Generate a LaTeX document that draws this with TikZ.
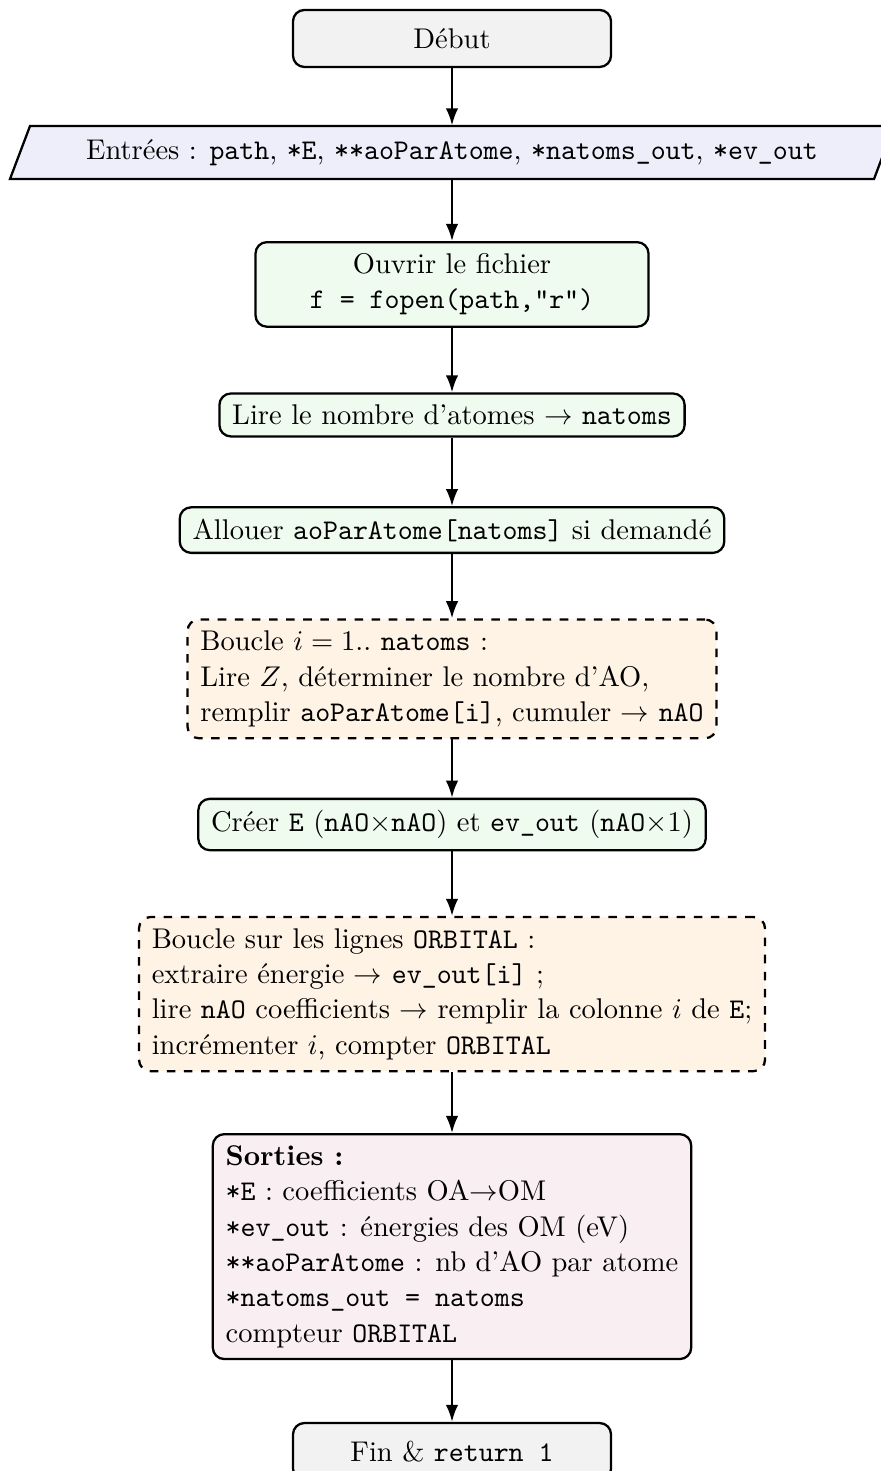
\documentclass[tikz,border=0pt]{standalone}
\usetikzlibrary{shapes.geometric,arrows.meta}
\definecolor{cgray}{HTML}{F2F2F2}
\definecolor{cblue}{HTML}{EEEEFB}
\definecolor{cgreen}{HTML}{F0FBF0}
\definecolor{corange}{HTML}{FFF3E6}
\definecolor{cpink}{HTML}{F9EEF2}
\begin{document}
\begin{tikzpicture}[x=1pt,y=1pt,
  base/.style={draw, line width=0.8pt, rounded corners=4pt, inner xsep=4.5pt, inner ysep=4pt,
    font=\fontsize{10}{12.4}\selectfont},
  term/.style={base, fill=cgray, minimum width=111.6pt, minimum height=20pt},
  io/.style={inner sep=0pt, minimum height=18.6pt, font=\fontsize{10}{12.4}\selectfont},
  iobox/.style={draw, line width=0.8pt, fill=cblue},
  proc/.style={base, fill=cgreen, align=center},
  loopbox/.style={base, dashed, fill=corange, align=left},
  outbox/.style={base, fill=cpink, align=left},
  arr/.style={-{Latex[length=6pt,width=4.4pt]}, line width=0.8pt}
]
\useasboundingbox (0,0) rectangle (308.77,-516.14);
\def\cx{158.6}
\node[term] (debut) at (\cx,-13.5) {Début};
\coordinate (inbl) at (3.51,-62.81);
\coordinate (intl) at (10.53,-44.21);
\coordinate (intr) at (313.68,-44.21);
\coordinate (inbr) at (306.67,-62.81);
\draw[iobox] (inbl) -- (intl) -- (intr) -- (inbr) -- cycle;
\node[io] (in) at (\cx,-53.5) {Entrées : \texttt{path}, \texttt{*E}, \texttt{**aoParAtome}, \texttt{*natoms\_out}, \texttt{*ev\_out}};
\node[proc, minimum width=137.9pt] (open) at (\cx,-99.8) {Ouvrir le fichier\\\texttt{f = fopen(path,"r")}};
\node[proc] (lire) at (\cx,-145.6) {Lire le nombre d'atomes $\rightarrow$ \texttt{natoms}};
\node[proc] (alloc) at (\cx,-186.0) {Allouer \texttt{aoParAtome[natoms]} si demandé};
\node[loopbox] (loopa) at (\cx,-238.2) {Boucle $i=1..$ \texttt{natoms} :\\Lire $Z$, déterminer le nombre d'AO,\\remplir \texttt{aoParAtome[i]}, cumuler $\rightarrow$ \texttt{nAO}};
\node[proc] (creer) at (\cx,-289.3) {Créer \texttt{E} (\texttt{nAO}$\times$\texttt{nAO}) et \texttt{ev\_out} (\texttt{nAO}$\times$1)};
\node[loopbox] (loopb) at (\cx,-348.8) {Boucle sur les lignes \texttt{ORBITAL} :\\extraire énergie $\rightarrow$ \texttt{ev\_out[i]} ;\\lire \texttt{nAO} coefficients $\rightarrow$ remplir la colonne $i$ de \texttt{E};\\incrémenter $i$, compter \texttt{ORBITAL}};
\node[outbox] (out) at (\cx,-437.4) {\textbf{Sorties :}\\\texttt{*E} : coefficients OA$\rightarrow$OM\\\texttt{*ev\_out} : énergies des OM (eV)\\\texttt{**aoParAtome} : nb d'AO par atome\\\texttt{*natoms\_out = natoms}\\compteur \texttt{ORBITAL}};
\node[term] (fin) at (\cx,-509.3) {Fin \& \texttt{return 1}};
\draw[arr] (debut) -- (in);
\draw[arr] (in) -- (open);
\draw[arr] (open) -- (lire);
\draw[arr] (lire) -- (alloc);
\draw[arr] (alloc) -- (loopa);
\draw[arr] (loopa) -- (creer);
\draw[arr] (creer) -- (loopb);
\draw[arr] (loopb) -- (out);
\draw[arr] (out) -- (fin);
\end{tikzpicture}
\end{document}
